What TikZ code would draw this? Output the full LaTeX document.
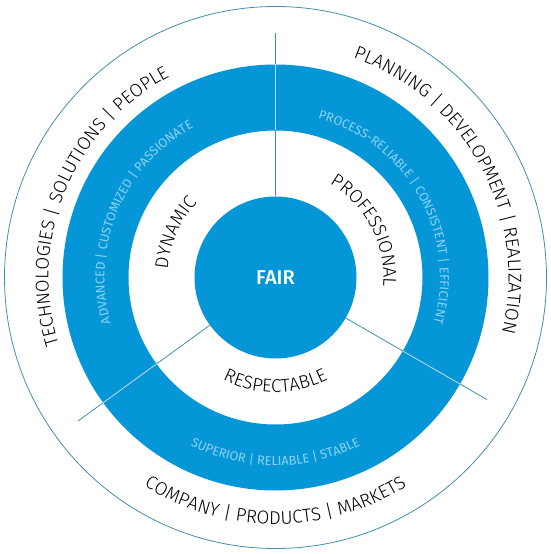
\documentclass[tikz,border=0pt]{standalone}
\usepackage{fontspec}
\setmainfont{Fira Sans Light}
\newfontfamily\corefont{Fira Sans Medium}
\newfontfamily\palefont{Fira Sans}
\usetikzlibrary{decorations.text}
\definecolor{ringblue}{RGB}{4,150,214}
\definecolor{spokeblue}{RGB}{70,140,176}
\definecolor{spokelight}{RGB}{178,224,244}
\definecolor{paleblue}{RGB}{140,210,246}
\newcommand{\bandfont}{\fontsize{18.5}{18.5}\selectfont}
\newcommand{\ringfont}{\palefont\fontsize{12.8}{12.8}\selectfont}

\begin{document}
\begin{tikzpicture}[x=1pt, y=1pt]
  \tikzset{
    ring/.style={fill=ringblue, even odd rule},
    spoke/.style={draw=spokeblue, line width=0.8pt},
    spokelit/.style={draw=spokelight, line width=0.8pt},
    core/.style={circle, fill=ringblue, minimum size=162pt, inner sep=0pt, text=white, font=\corefont\fontsize{20}{20}\selectfont},
    arclabel/.style={decorate, decoration={text along path, text align=center,
        text format delimiters={[}{]}, text={#1}}},
    palelabel/.style={decorate, decoration={text along path, text align=center,
        text color=paleblue, text format delimiters={[}{]}, text={#1}}}
  }
  \useasboundingbox (-275.5,-276.5) rectangle (274.5,277.5);

  %--- rings ---
  \draw[spoke] (0,0) circle[radius=271];
  \fill[ring] (0,0) circle[radius=213] (0,0) circle[radius=147];
  \node[core] (fair) at (0,0) {FAIR};

  %--- spokes ---
  \coordinate (topend)   at (90:244);
  \coordinate (rightend) at (-30:244);
  \coordinate (leftend)  at (216:244);
  \draw[spoke] (fair.90)  -- (topend);
  \draw[spoke] (fair.-30) -- (rightend);
  \draw[spoke] (fair.216) -- (leftend);

  % light part inside the blue ring
  \coordinate (topin)    at (90:147);  \coordinate (topout)   at (90:213);
  \coordinate (rightin)  at (-30:147); \coordinate (rightout) at (-30:213);
  \coordinate (leftin)   at (216:147); \coordinate (leftout)  at (216:213);
  \draw[spokelit] (topin)   -- (topout);
  \draw[spokelit] (rightin) -- (rightout);
  \draw[spokelit] (leftin)  -- (leftout);

  %--- outer band ---
  \path[arclabel={[\bandfont]TECHNOLOGIES | SOLUTIONS | PEOPLE}]
    (240:227) arc[start angle=240, end angle=75, radius=227];
  \path[arclabel={[\bandfont]PLANNING | DEVELOPMENT | REALIZATION}]
    (110:233) arc[start angle=110, end angle=-53, radius=233];
  \path[arclabel={[\bandfont]COMPANY | PRODUCTS | MARKETS}]
    (-170:246.5) arc[start angle=-170, end angle=-10, radius=246.5];

  %--- blue ring ---
  \path[palelabel={[\ringfont]ADVANCED | CUSTOMIZED | PASSIONATE}]
    (240:171) arc[start angle=240, end angle=74, radius=171];
  \path[palelabel={[\ringfont]PROCESS-RELIABLE | CONSISTENT | EFFICIENT}]
    (115:164.5) arc[start angle=115, end angle=-56, radius=164.5];
  \path[palelabel={[\ringfont]SUPERIOR | RELIABLE | STABLE}]
    (-170:188) arc[start angle=-170, end angle=-10, radius=188];

  %--- inner band ---
  \path[arclabel={[\bandfont]DYNAMIC}]
    (240:108) arc[start angle=240, end angle=72, radius=108];
  \path[arclabel={[\bandfont]PROFESSIONAL}]
    (110:108) arc[start angle=110, end angle=-55, radius=108];
  \path[arclabel={[\bandfont]RESPECTABLE}]
    (-170:115) arc[start angle=-170, end angle=-10, radius=115];
\end{tikzpicture}
\end{document}
